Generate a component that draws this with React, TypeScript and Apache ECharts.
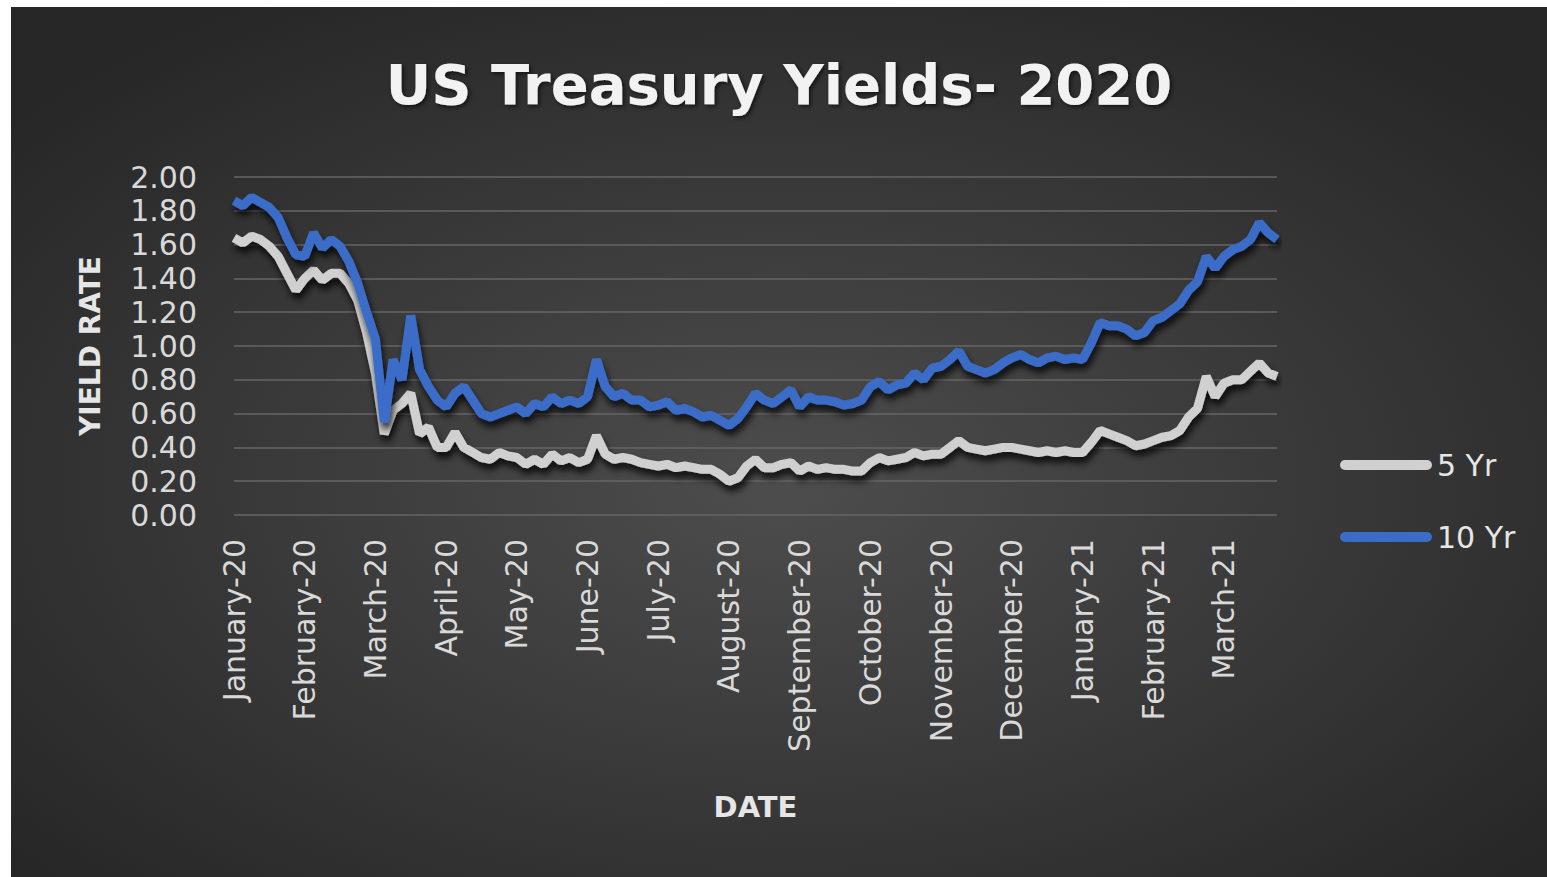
import React, { useEffect, useRef } from "react";
import * as echarts from "echarts";

// Month tick labels (one label per month, 8 samples per month, 7 in the last)
const monthLabels = [
  "January-20", "February-20", "March-20", "April-20", "May-20", "June-20",
  "July-20", "August-20", "September-20", "October-20", "November-20",
  "December-20", "January-21", "February-21", "March-21",
];
const samplesPerMonth = 8;

// 5 year yield
const fiveYr = [
  1.64, 1.61, 1.65, 1.63, 1.59, 1.53, 1.43, 1.33,
  1.40, 1.45, 1.39, 1.43, 1.43, 1.37, 1.27, 1.08,
  0.84, 0.48, 0.62, 0.66, 0.72, 0.48, 0.52, 0.40,
  0.40, 0.49, 0.40, 0.37, 0.34, 0.33, 0.37, 0.35,
  0.34, 0.30, 0.33, 0.30, 0.36, 0.32, 0.34, 0.31,
  0.33, 0.47, 0.36, 0.33, 0.34, 0.33, 0.31, 0.30,
  0.29, 0.30, 0.28, 0.29, 0.28, 0.27, 0.27, 0.24,
  0.20, 0.22, 0.29, 0.33, 0.28, 0.28, 0.30, 0.31,
  0.26, 0.29, 0.27, 0.28, 0.27, 0.27, 0.26, 0.26,
  0.31, 0.34, 0.32, 0.33, 0.34, 0.37, 0.35, 0.36,
  0.36, 0.40, 0.44, 0.40, 0.39, 0.38, 0.39, 0.40,
  0.40, 0.39, 0.38, 0.37, 0.38, 0.37, 0.38, 0.37,
  0.37, 0.43, 0.50, 0.48, 0.46, 0.44, 0.41, 0.42,
  0.44, 0.46, 0.47, 0.50, 0.58, 0.63, 0.82, 0.70,
  0.78, 0.80, 0.80, 0.85, 0.90, 0.84, 0.82,
];

// 10 year yield
const tenYr = [
  1.86, 1.83, 1.88, 1.85, 1.82, 1.76, 1.64, 1.54,
  1.53, 1.67, 1.58, 1.63, 1.59, 1.50, 1.37, 1.20,
  1.04, 0.55, 0.92, 0.80, 1.18, 0.86, 0.76, 0.68,
  0.64, 0.72, 0.76, 0.68, 0.60, 0.58, 0.60, 0.62,
  0.64, 0.60, 0.66, 0.64, 0.70, 0.66, 0.68, 0.66,
  0.70, 0.92, 0.76, 0.70, 0.72, 0.68, 0.68, 0.64,
  0.65, 0.67, 0.62, 0.63, 0.61, 0.58, 0.59, 0.56,
  0.53, 0.57, 0.64, 0.72, 0.68, 0.66, 0.70, 0.74,
  0.64, 0.70, 0.68, 0.68, 0.67, 0.65, 0.66, 0.68,
  0.76, 0.79, 0.74, 0.77, 0.78, 0.84, 0.80, 0.87,
  0.88, 0.92, 0.97, 0.88, 0.86, 0.84, 0.86, 0.90,
  0.93, 0.95, 0.92, 0.90, 0.93, 0.94, 0.92, 0.93,
  0.92, 1.02, 1.14, 1.12, 1.12, 1.10, 1.06, 1.08,
  1.15, 1.17, 1.21, 1.25, 1.33, 1.38, 1.53, 1.46,
  1.53, 1.57, 1.59, 1.63, 1.73, 1.67, 1.63,
];

const seriesNames = ["5 Yr", "10 Yr"];
const seriesColors = ["#d0d0d0", "#3a6cc8"];

const categories = fiveYr.map(
  (_, i) => `${monthLabels[Math.floor(i / samplesPerMonth)]}|${i % samplesPerMonth}`
);

const FONT = "DejaVu Sans";

export default function App() {
  const ref = useRef<HTMLDivElement>(null);

  useEffect(() => {
    if (!ref.current) return;
    const chart = echarts.init(ref.current, null, { renderer: "svg" });
    const lineShadow = {
      shadowColor: "rgba(0,0,0,0.8)",
      shadowBlur: 7,
      shadowOffsetX: 2,
      shadowOffsetY: 6,
    };
    chart.setOption({
      animation: false,
      backgroundColor: new echarts.graphic.RadialGradient(0.5, 0.55, 0.65, [
        { offset: 0, color: "#4d4d4d" },
        { offset: 1, color: "#272727" },
      ]),
      title: {
        text: "US Treasury Yields- 2020",
        left: "center",
        top: 44,
        textStyle: {
          color: "#f2f2f2",
          fontFamily: FONT,
          fontWeight: "bold",
          fontSize: 56,
          textShadowColor: "rgba(0,0,0,0.6)",
          textShadowBlur: 4,
          textShadowOffsetX: 2,
          textShadowOffsetY: 2,
        },
      },
      legend: {
        orient: "vertical",
        left: 1329,
        top: 443,
        padding: 0,
        itemWidth: 92,
        itemHeight: 10,
        itemGap: 42,
        icon: "path://M5 0H87A5 5 0 0 1 87 10H5A5 5 0 0 1 5 0Z",
        textStyle: { color: "#e6e6e6", fontFamily: FONT, fontSize: 30, lineHeight: 30 },
        data: seriesNames,
      },
      grid: { left: 223, right: 270, top: 170, bottom: 362 },
      xAxis: {
        type: "category",
        data: categories,
        boundaryGap: false,
        axisLine: { show: false },
        axisTick: { show: false },
        axisLabel: {
          interval: samplesPerMonth - 1,
          rotate: 90,
          margin: 24,
          color: "#d9d9d9",
          fontFamily: FONT,
          fontSize: 30,
          formatter: (v: string) => v.split("|")[0],
        },
        name: "DATE",
        nameLocation: "middle",
        nameGap: 277,
        nameTextStyle: { color: "#e6e6e6", fontFamily: FONT, fontWeight: "bold", fontSize: 29 },
      },
      yAxis: {
        type: "value",
        min: 0,
        max: 2,
        interval: 0.2,
        axisLine: { show: false },
        axisTick: { show: false },
        axisLabel: {
          margin: 37,
          color: "#d9d9d9",
          fontFamily: FONT,
          fontSize: 30,
          formatter: (v: number) => v.toFixed(2),
        },
        splitLine: { lineStyle: { color: "#666666", width: 1.5 } },
        name: "YIELD RATE",
        nameLocation: "middle",
        nameGap: 130,
        nameRotate: 90,
        nameTextStyle: { color: "#e6e6e6", fontFamily: FONT, fontWeight: "bold", fontSize: 28 },
      },
      series: [
        {
          name: seriesNames[0],
          type: "line",
          data: fiveYr,
          symbol: "none",
          color: seriesColors[0],
          lineStyle: { width: 9, color: seriesColors[0], ...lineShadow },
        },
        {
          name: seriesNames[1],
          type: "line",
          data: tenYr,
          symbol: "none",
          color: seriesColors[1],
          lineStyle: { width: 9, color: seriesColors[1], ...lineShadow },
        },
      ],
    });
    return () => chart.dispose();
  }, []);

  return (
    <div
      ref={ref}
      style={{ position: "absolute", left: 11, top: 7, width: 1536, height: 870 }}
    />
  );
}
